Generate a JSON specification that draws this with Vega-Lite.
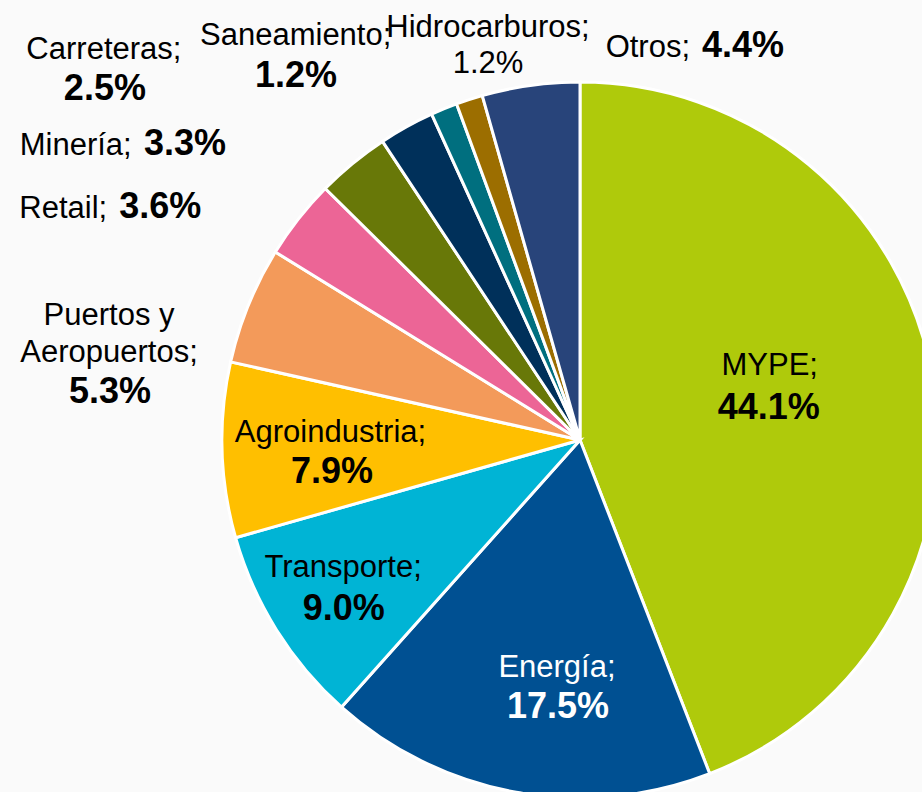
{
  "$schema": "https://vega.github.io/schema/vega-lite/v6.json",
  "width": 1160,
  "height": 880,
  "autosize": {"type": "none"},
  "padding": {"left": 0, "top": 0, "right": -238, "bottom": -88},
  "background": "#fafafa",
  "config": {"view": {"stroke": null}, "text": {"font": "Liberation Sans"}},
  "data": {
    "values": [
      {"k": 1, "name": "MYPE", "label": "MYPE;", "value": 44.1},
      {"k": 2, "name": "Energía", "label": "Energía;", "value": 17.5},
      {"k": 3, "name": "Transporte", "label": "Transporte;", "value": 9.0},
      {"k": 4, "name": "Agroindustria", "label": "Agroindustria;", "value": 7.9},
      {"k": 5, "name": "Puertos y Aeropuertos", "label": "Puertos y\nAeropuertos;", "value": 5.3},
      {"k": 6, "name": "Retail", "label": "Retail;", "value": 3.6},
      {"k": 7, "name": "Minería", "label": "Minería;", "value": 3.3},
      {"k": 8, "name": "Carreteras", "label": "Carreteras;", "value": 2.5},
      {"k": 9, "name": "Saneamiento", "label": "Saneamiento;", "value": 1.2},
      {"k": 10, "name": "Hidrocarburos", "label": "Hidrocarburos;", "value": 1.2},
      {"k": 11, "name": "Otros", "label": "Otros;", "value": 4.4}
    ]
  },
  "transform": [
    {"stack": "value", "groupby": [], "sort": [{"field": "k", "order": "ascending"}], "as": ["v0", "v1"]},
    {"calculate": "(datum.v0 + datum.v1) / 2", "as": "mid"},
    {"calculate": "format(datum.value, '.1f') + '%'", "as": "pct"}
  ],
  "layer": [
    {
      "mark": {"type": "arc", "outerRadius": 358, "stroke": "#ffffff", "strokeWidth": 3},
      "encoding": {
        "theta": {"field": "v0", "type": "quantitative", "scale": {"domain": [0, 100]}},
        "theta2": {"field": "v1"},
        "color": {
          "field": "name", "type": "nominal", "legend": null,
          "scale": {
            "domain": ["MYPE", "Energía", "Transporte", "Agroindustria", "Puertos y Aeropuertos", "Retail", "Minería", "Carreteras", "Saneamiento", "Hidrocarburos", "Otros"],
            "range": ["#afca0b", "#005092", "#00b4d5", "#ffbf00", "#f39a5a", "#ec6596", "#687808", "#00305a", "#006f7f", "#9c6e00", "#28447a"]
          }
        }
      }
    },
    {"transform": [{"filter": "datum.name === 'MYPE'"}],
     "mark": {"type": "text", "radius": 250, "dx": -56, "dy": -19, "fontSize": 31, "align": "center", "baseline": "alphabetic", "color": "#000000"},
     "encoding": {"theta": {"field": "mid", "type": "quantitative"}, "text": {"field": "label"}}},
    {"transform": [{"filter": "datum.name === 'MYPE'"}],
     "mark": {"type": "text", "radius": 250, "dx": -57, "dy": 25, "fontSize": 36, "fontWeight": "bold", "align": "center", "baseline": "alphabetic", "color": "#000000"},
     "encoding": {"theta": {"field": "mid", "type": "quantitative"}, "text": {"field": "pct"}}},
    {"transform": [{"filter": "datum.name === 'Energía'"}],
     "mark": {"type": "text", "radius": 250, "dx": 21.5, "dy": -9.3, "fontSize": 31, "align": "center", "baseline": "alphabetic", "color": "#ffffff"},
     "encoding": {"theta": {"field": "mid", "type": "quantitative"}, "text": {"field": "label"}}},
    {"transform": [{"filter": "datum.name === 'Energía'"}],
     "mark": {"type": "text", "radius": 250, "dx": 22.5, "dy": 32.3, "fontSize": 36, "fontWeight": "bold", "align": "center", "baseline": "alphabetic", "color": "#ffffff"},
     "encoding": {"theta": {"field": "mid", "type": "quantitative"}, "text": {"field": "pct"}}},
    {"transform": [{"filter": "datum.name === 'Transporte'"}],
     "mark": {"type": "text", "radius": 250, "dx": -25, "dy": 4, "fontSize": 31, "align": "center", "baseline": "alphabetic", "color": "#000000"},
     "encoding": {"theta": {"field": "mid", "type": "quantitative"}, "text": {"field": "label"}}},
    {"transform": [{"filter": "datum.name === 'Transporte'"}],
     "mark": {"type": "text", "radius": 250, "dx": -24.4, "dy": 47.4, "fontSize": 36, "fontWeight": "bold", "align": "center", "baseline": "alphabetic", "color": "#000000"},
     "encoding": {"theta": {"field": "mid", "type": "quantitative"}, "text": {"field": "pct"}}},
    {"transform": [{"filter": "datum.name === 'Agroindustria'"}],
     "mark": {"type": "text", "radius": 250, "dx": 0.4, "dy": -5, "fontSize": 31, "align": "center", "baseline": "alphabetic", "color": "#000000"},
     "encoding": {"theta": {"field": "mid", "type": "quantitative"}, "text": {"field": "label"}}},
    {"transform": [{"filter": "datum.name === 'Agroindustria'"}],
     "mark": {"type": "text", "radius": 250, "dx": 1.9, "dy": 36, "fontSize": 36, "fontWeight": "bold", "align": "center", "baseline": "alphabetic", "color": "#000000"},
     "encoding": {"theta": {"field": "mid", "type": "quantitative"}, "text": {"field": "pct"}}},
    {"transform": [{"filter": "datum.name === 'Puertos y Aeropuertos'"}],
     "mark": {"type": "text", "radius": 380, "dx": -119, "dy": 28.2, "fontSize": 31, "lineBreak": "\n", "lineHeight": 36.7, "align": "center", "baseline": "alphabetic", "color": "#000000"},
     "encoding": {"theta": {"field": "mid", "type": "quantitative"}, "text": {"field": "label"}}},
    {"transform": [{"filter": "datum.name === 'Puertos y Aeropuertos'"}],
     "mark": {"type": "text", "radius": 380, "dx": -118, "dy": 106, "fontSize": 36, "fontWeight": "bold", "align": "center", "baseline": "alphabetic", "color": "#000000"},
     "encoding": {"theta": {"field": "mid", "type": "quantitative"}, "text": {"field": "pct"}}},
    {"transform": [{"filter": "datum.name === 'Retail'"}],
     "mark": {"type": "text", "radius": 380, "dx": -174, "dy": 13, "fontSize": 31, "align": "right", "baseline": "alphabetic", "color": "#000000"},
     "encoding": {"theta": {"field": "mid", "type": "quantitative"}, "text": {"field": "label"}}},
    {"transform": [{"filter": "datum.name === 'Retail'"}],
     "mark": {"type": "text", "radius": 380, "dx": -162, "dy": 13, "fontSize": 36, "fontWeight": "bold", "align": "left", "baseline": "alphabetic", "color": "#000000"},
     "encoding": {"theta": {"field": "mid", "type": "quantitative"}, "text": {"field": "pct"}}},
    {"transform": [{"filter": "datum.name === 'Minería'"}],
     "mark": {"type": "text", "radius": 380, "dx": -207, "dy": 9, "fontSize": 31, "align": "right", "baseline": "alphabetic", "color": "#000000"},
     "encoding": {"theta": {"field": "mid", "type": "quantitative"}, "text": {"field": "label"}}},
    {"transform": [{"filter": "datum.name === 'Minería'"}],
     "mark": {"type": "text", "radius": 380, "dx": -194.7, "dy": 9, "fontSize": 36, "fontWeight": "bold", "align": "left", "baseline": "alphabetic", "color": "#000000"},
     "encoding": {"theta": {"field": "mid", "type": "quantitative"}, "text": {"field": "pct"}}},
    {"transform": [{"filter": "datum.name === 'Carreteras'"}],
     "mark": {"type": "text", "radius": 380, "dx": -292, "dy": -49, "fontSize": 31, "align": "center", "baseline": "alphabetic", "color": "#000000"},
     "encoding": {"theta": {"field": "mid", "type": "quantitative"}, "text": {"field": "label"}}},
    {"transform": [{"filter": "datum.name === 'Carreteras'"}],
     "mark": {"type": "text", "radius": 380, "dx": -291, "dy": -7.5, "fontSize": 36, "fontWeight": "bold", "align": "center", "baseline": "alphabetic", "color": "#000000"},
     "encoding": {"theta": {"field": "mid", "type": "quantitative"}, "text": {"field": "pct"}}},
    {"transform": [{"filter": "datum.name === 'Saneamiento'"}],
     "mark": {"type": "text", "radius": 380, "dx": -140, "dy": -43, "fontSize": 31, "align": "center", "baseline": "alphabetic", "color": "#000000"},
     "encoding": {"theta": {"field": "mid", "type": "quantitative"}, "text": {"field": "label"}}},
    {"transform": [{"filter": "datum.name === 'Saneamiento'"}],
     "mark": {"type": "text", "radius": 380, "dx": -139.7, "dy": -1, "fontSize": 36, "fontWeight": "bold", "align": "center", "baseline": "alphabetic", "color": "#000000"},
     "encoding": {"theta": {"field": "mid", "type": "quantitative"}, "text": {"field": "pct"}}},
    {"transform": [{"filter": "datum.name === 'Hidrocarburos'"}],
     "mark": {"type": "text", "radius": 380, "dx": 25.4, "dy": -41.6, "fontSize": 31, "align": "center", "baseline": "alphabetic", "color": "#000000"},
     "encoding": {"theta": {"field": "mid", "type": "quantitative"}, "text": {"field": "label"}}},
    {"transform": [{"filter": "datum.name === 'Hidrocarburos'"}],
     "mark": {"type": "text", "radius": 380, "dx": 25.4, "dy": -5.6, "fontSize": 31, "align": "center", "baseline": "alphabetic", "color": "#000000"},
     "encoding": {"theta": {"field": "mid", "type": "quantitative"}, "text": {"field": "pct"}}},
    {"transform": [{"filter": "datum.name === 'Otros'"}],
     "mark": {"type": "text", "radius": 380, "dx": 162.4, "dy": -6.6, "fontSize": 31, "align": "right", "baseline": "alphabetic", "color": "#000000"},
     "encoding": {"theta": {"field": "mid", "type": "quantitative"}, "text": {"field": "label"}}},
    {"transform": [{"filter": "datum.name === 'Otros'"}],
     "mark": {"type": "text", "radius": 380, "dx": 174.4, "dy": -6.6, "fontSize": 36, "fontWeight": "bold", "align": "left", "baseline": "alphabetic", "color": "#000000"},
     "encoding": {"theta": {"field": "mid", "type": "quantitative"}, "text": {"field": "pct"}}}
  ]
}
